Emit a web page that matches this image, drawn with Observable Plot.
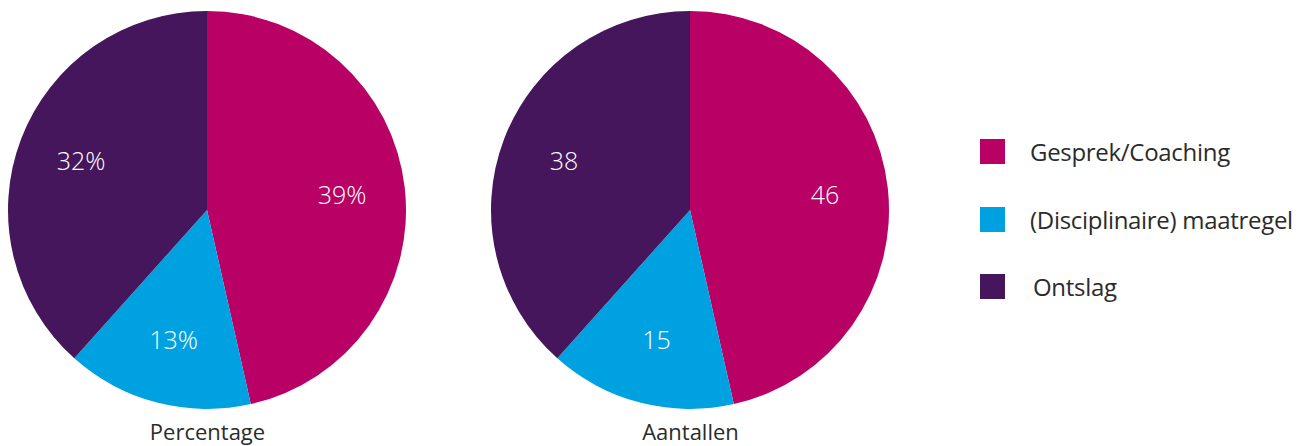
<!DOCTYPE html>
<html>
<head>
<meta charset="utf-8">
<script src="https://cdn.jsdelivr.net/npm/d3@7"></script>
<script src="https://cdn.jsdelivr.net/npm/@observablehq/plot@0.6"></script>
<style>
  html, body { margin: 0; padding: 0; background: #fff; overflow: hidden; }
  #wrap { position: relative; width: 1309px; height: 446px; font-family: "Open Sans", "Noto Sans", sans-serif; }
  #chart { position: absolute; left: 0; top: 0; }
  .item { position: absolute; left: 980px; display: flex; align-items: center; height: 25px; }
  .sw { width: 25px; height: 25px; flex: none; }
  .lab { margin-left: 25px; font-size: 24px; color: #2b2b2b; white-space: nowrap; letter-spacing: -0.3px; }
</style>
</head>
<body>
<div id="wrap"><div id="chart"></div></div>
<script>
const categories = ["Gesprek/Coaching", "(Disciplinaire) maatregel", "Ontslag"];
const colors = ["#b80065", "#00a1e1", "#45165b"];
const counts = [46, 15, 38];
const percentLabels = ["39%", "13%", "32%"];
const countLabels = ["46", "15", "38"];
const panels = ["Percentage", "Aantallen"];

// slice table: both panels sized by counts
const rows = [];
panels.forEach((p, pi) => categories.forEach((c, ci) => rows.push({
  panel: p, category: c, count: counts[ci],
  label: pi === 0 ? percentLabels[ci] : countLabels[ci]
})));

// label positions in data space (centroid angle of each slice)
const labelRows = [];
panels.forEach(p => {
  const sub = rows.filter(r => r.panel === p);
  const arcs = d3.pie().sort(null).value(d => d.count)(sub);
  arcs.forEach(a => {
    const mid = (a.startAngle + a.endAngle) / 2;
    labelRows.push({...a.data, lx: 0.68 * Math.sin(mid), ly: 0.68 * Math.cos(mid)});
  });
});

function pieRender(index, scales, values) {
  const g = d3.create("svg:g");
  const idx = Array.from(index);
  if (!idx.length) return g.node();
  const cx = values.x[idx[0]], cy = values.y[idx[0]];
  const r = Math.min(Math.abs(scales.x(1) - scales.x(0)), Math.abs(scales.y(1) - scales.y(0)));
  const arcs = d3.pie().sort(null).value(i => rows[i].count)(idx);
  const arc = d3.arc().innerRadius(0).outerRadius(r);
  g.selectAll("path").data(arcs).join("path")
    .attr("transform", `translate(${cx},${cy})`)
    .attr("d", arc)
    .attr("fill", d => values.fill[d.data]);
  return g.node();
}

const plot = Plot.plot({
  width: 900,
  height: 446,
  marginLeft: 8,
  marginRight: 11,
  marginTop: 11,
  marginBottom: 37,
  style: { fontFamily: "'Open Sans', 'Noto Sans', sans-serif", color: "#2b2b2b", background: "transparent" },
  fx: { domain: panels, paddingInner: 0.176, paddingOuter: 0 },
  x: { domain: [-1, 1], axis: null },
  y: { domain: [-1, 1], axis: null },
  color: { domain: categories, range: colors },
  marks: [
    Plot.dot(rows, { x: () => 0, y: () => 0, fx: "panel", fill: "category", render: pieRender }),
    Plot.text(labelRows, { x: "lx", y: "ly", fx: "panel", text: "label", fill: "white", fontSize: 25, fontWeight: 300 }),
    Plot.axisFx({ anchor: "bottom", tickSize: 0, tickPadding: 15, fontSize: 22, label: null })
  ]
});
document.getElementById("chart").appendChild(plot);

// legend
const tops = [139, 207, 274];
const wrap = document.getElementById("wrap");
categories.forEach((c, i) => {
  const item = document.createElement("div");
  item.className = "item";
  item.style.top = tops[i] + "px";
  const sw = document.createElement("div");
  sw.className = "sw";
  sw.style.background = colors[i];
  const lab = document.createElement("div");
  lab.className = "lab";
  lab.textContent = c;
  if (i === 2) lab.style.marginLeft = "28px";
  item.appendChild(sw);
  item.appendChild(lab);
  wrap.appendChild(item);
});
</script>
</body>
</html>
